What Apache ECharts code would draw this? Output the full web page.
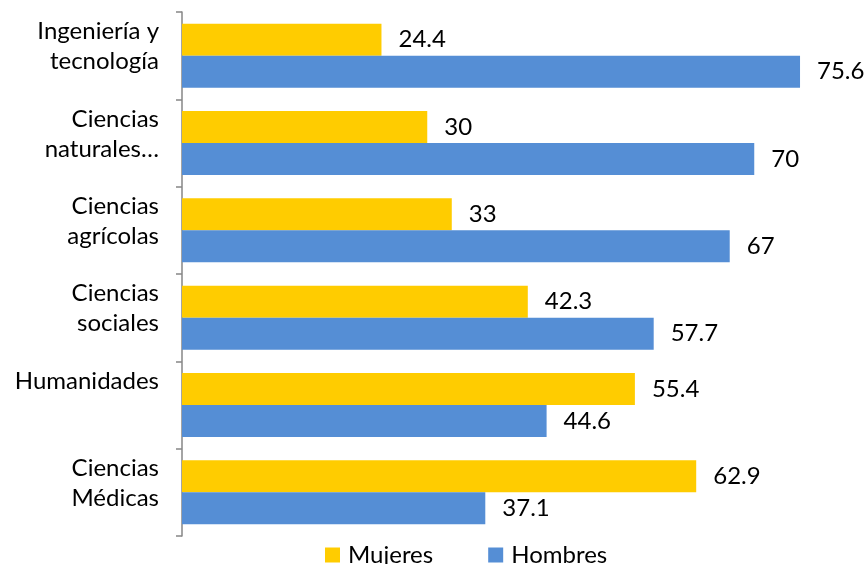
<!DOCTYPE html>
<html>
<head>
<meta charset="utf-8">
<script src="https://cdn.jsdelivr.net/npm/echarts@6/dist/echarts.min.js"></script>
<style>
  html, body { margin: 0; padding: 0; background: #fff; }
  #chart { width: 865px; height: 564px; }
</style>
</head>
<body>
<div id="chart"></div>
<script>
// categorias, de arriba hacia abajo
var categories = ['Ingeniería y\ntecnología', 'Ciencias\nnaturales…', 'Ciencias\nagrícolas', 'Ciencias\nsociales', 'Humanidades\n ', 'Ciencias\nMédicas'];
var mujeres = [24.4, 30, 33, 42.3, 55.4, 62.9];
var hombres = [75.6, 70, 67, 57.7, 44.6, 37.1];

var myChart = echarts.init(document.getElementById('chart'));

var labelStyle = {
    show: true,
    position: 'right',
    distance: 17,
    fontFamily: 'Lato',
    fontSize: 24,
    color: '#000'
};

var option = {
    animation: false,
    textStyle: { fontFamily: 'Lato' },
    grid: { left: 182, right: 29, top: 12, bottom: 28, containLabel: false },
    legend: {
        top: 538,
        left: 320,
        itemWidth: 15,
        itemHeight: 15,
        itemGap: 55,
        icon: 'rect',
        textStyle: { fontFamily: 'Lato', fontSize: 24, color: '#000', padding: [0, 0, 0, 3] },
        data: ['Mujeres', 'Hombres']
    },
    xAxis: {
        type: 'value',
        min: 0,
        max: 80,
        show: false,
        splitLine: { show: false }
    },
    yAxis: {
        type: 'category',
        inverse: true,
        data: categories,
        axisLine: { show: true, lineStyle: { color: '#868686', width: 1.5 } },
        axisTick: { show: true, length: 6, lineStyle: { color: '#868686', width: 1.5 } },
        axisLabel: {
            fontFamily: 'Lato',
            fontSize: 24,
            color: '#000',
            margin: 23,
            lineHeight: 30,
            align: 'right',
            // una linea corta al final sube el texto como en el original
            formatter: function (v) { return v + '\n{s| }'; },
            rich: { s: { lineHeight: 18, fontSize: 10 } }
        }
    },
    series: [
        {
            name: 'Mujeres',
            type: 'bar',
            data: mujeres,
            barWidth: 32,
            barGap: '0%',
            itemStyle: { color: '#FFCC00' },
            label: labelStyle
        },
        {
            name: 'Hombres',
            type: 'bar',
            data: hombres,
            barWidth: 32,
            barGap: '0%',
            itemStyle: { color: '#558ED5' },
            label: labelStyle
        }
    ]
};

myChart.setOption(option);
</script>
</body>
</html>
